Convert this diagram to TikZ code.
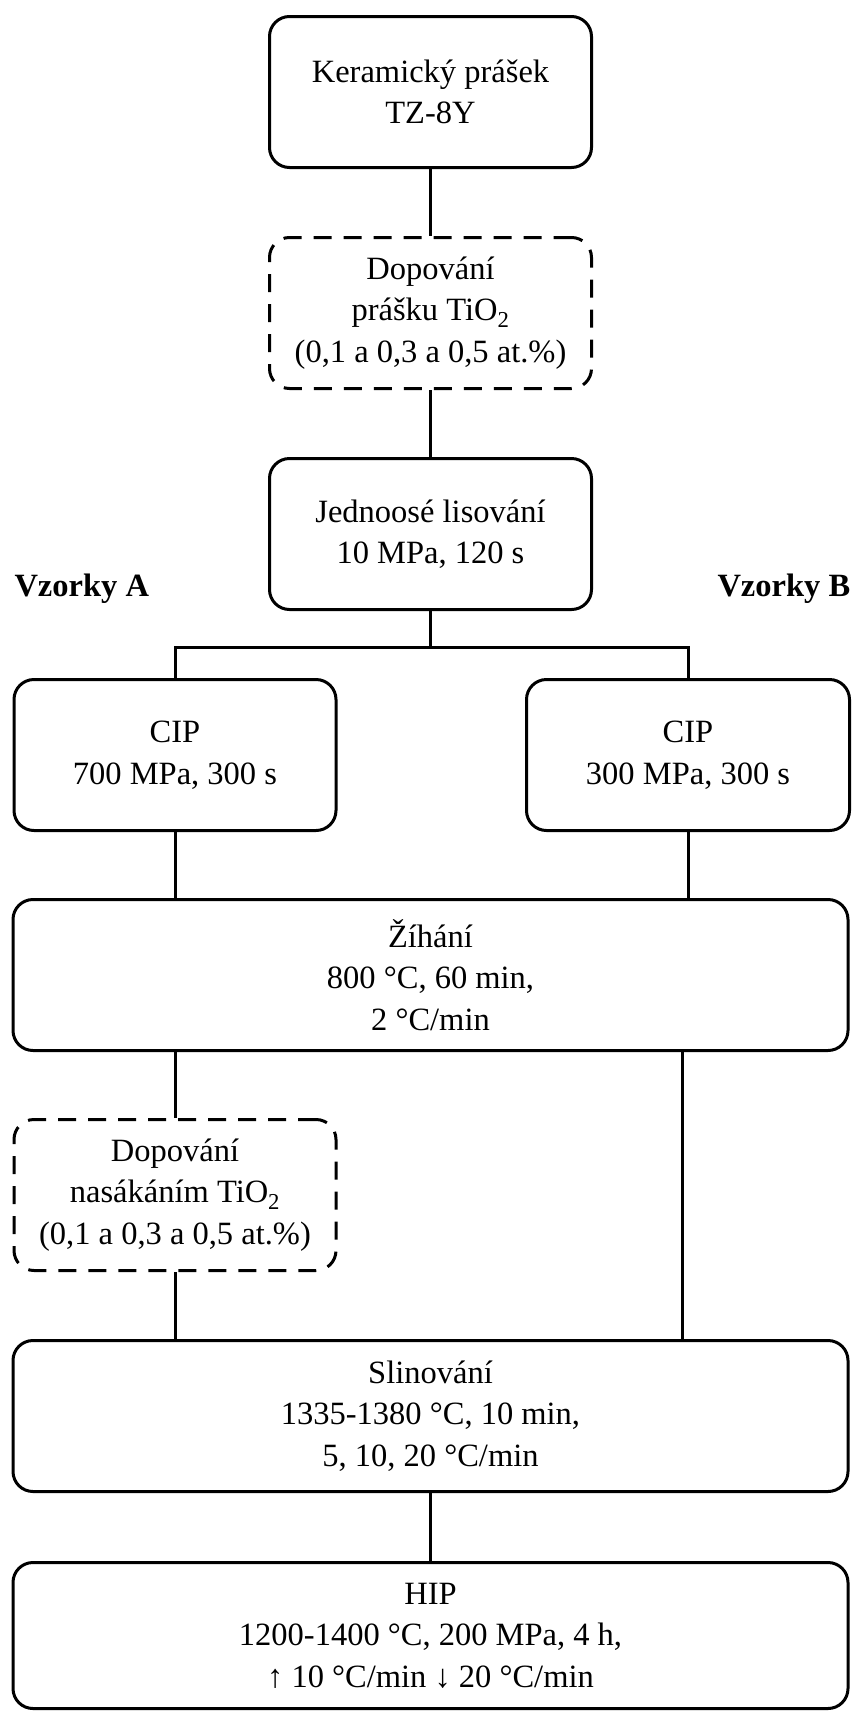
\documentclass[tikz,border=0pt]{standalone}
\usepackage{fontspec}
\setmainfont{Liberation Serif}
\usetikzlibrary{positioning,calc}

\begin{document}
\begin{tikzpicture}[
  x=1pt, y=-1pt,
  line width=3pt,
  card/.style={
    draw=black,
    rounded corners=20pt,
    line width=3pt,
    minimum width=322pt,
    minimum height=151pt,
    inner sep=0pt,
    align=center,
    font=\fontsize{32.5}{41.5}\selectfont
  },
  dopcard/.style={card, dash pattern=on 18pt off 12pt},
  widecard/.style={card, minimum width=835pt},
  grouplabel/.style={
    font=\fontsize{32.5}{41.5}\selectfont\bfseries,
    inner sep=0pt,
    anchor=base west
  }
]
  \useasboundingbox (0,0) rectangle (854,1711);

  % Powder preparation
  \node[card] (powder) at (430.5,92) {Keramický prášek\\TZ-8Y};
  \node[dopcard, below=67pt of powder] (dopowder) {Dopování\\prášku TiO\textsubscript{2}\\(0,1 a 0,3 a 0,5 at.\%)};
  \node[card, below=67pt of dopowder] (press) {Jednoosé lisování\\10 MPa, 120 s};

  % Two sample groups
  \node[grouplabel] (groupA) at (13,596) {Vzorky A};
  \node[grouplabel] (groupB) at (716,596) {Vzorky B};
  \node[card, below=67pt of press, xshift=-255.5pt] (cipA) {CIP\\700 MPa, 300 s};
  \node[card, below=67pt of press, xshift=257.5pt, minimum width=323pt] (cipB) {CIP\\300 MPa, 300 s};

  % Heat treatment
  \node[widecard, anchor=north, yshift=-66pt] (anneal) at (press |- cipA.south) {Žíhání\\800 °C, 60 min,\\2 °C/min};
  \node[dopcard, anchor=north, yshift=-66pt] (dopsoak) at (cipA |- anneal.south) {Dopování\\nasákáním TiO\textsubscript{2}\\(0,1 a 0,3 a 0,5 at.\%)};
  \node[widecard, anchor=north, yshift=-67pt] (sinter) at (anneal |- dopsoak.south) {Slinování\\1335-1380 °C, 10 min,\\5, 10, 20 °C/min};
  \node[widecard, below=68pt of sinter, minimum height=146pt] (hip) {HIP\\1200-1400 °C, 200 MPa, 4 h,\\↑ 10 °C/min ↓ 20 °C/min};

  % Connectors
  \coordinate (split) at ($(press.south)+(0,36)$);
  \draw (powder) -- (dopowder);
  \draw (dopowder) -- (press);
  \draw (press) -- (split);
  \draw (cipA.north) |- (split) -| (cipB.north);
  \draw (cipA) -- (cipA |- anneal.north);
  \draw (cipB) -- (cipB |- anneal.north);
  \draw (anneal.south -| dopsoak) -- (dopsoak);
  \draw (dopsoak) -- (dopsoak |- sinter.north);
  \draw ([xshift=-6pt]anneal.south -| cipB) -- ([xshift=-6pt]sinter.north -| cipB);
  \draw (sinter) -- (hip);
\end{tikzpicture}
\end{document}
